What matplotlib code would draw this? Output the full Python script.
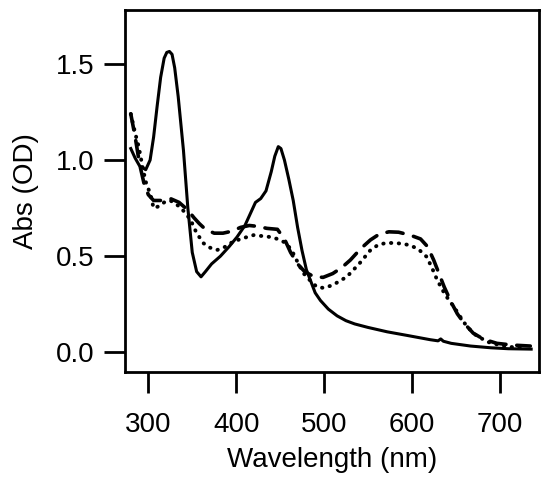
import numpy as np
import matplotlib
matplotlib.use("Agg")
import matplotlib.pyplot as plt

plt.rcParams['font.family'] = ['Liberation Sans', 'DejaVu Sans']

# solid trace
wl_solid = [280, 285, 290, 297, 302, 306, 310, 314, 318, 321, 324, 327, 330, 334,
            340, 345, 350, 355, 360, 365, 372, 382, 392, 401, 410, 417, 422, 428,
            434, 440, 444, 448, 451, 455, 460, 465, 470, 475, 480, 485, 490, 496,
            505, 515, 525, 535, 550, 572, 595, 621, 630, 633, 636, 645, 667, 690,
            710, 736]
abs_solid = [1.06, 1.01, 0.97, 0.95, 1.00, 1.12, 1.28, 1.43, 1.53, 1.56, 1.565, 1.55,
             1.48, 1.33, 1.05, 0.75, 0.52, 0.42, 0.393, 0.42, 0.46, 0.50, 0.55, 0.60,
             0.66, 0.73, 0.78, 0.80, 0.84, 0.94, 1.02, 1.07, 1.06, 1.00, 0.90, 0.79,
             0.65, 0.53, 0.43, 0.37, 0.31, 0.27, 0.225, 0.19, 0.165, 0.148, 0.13,
             0.107, 0.088, 0.066, 0.06, 0.07, 0.058, 0.047, 0.033, 0.024, 0.019, 0.017]

# dashed trace
wl_dash = [280, 285, 290, 295, 300, 306, 315, 325, 335, 345, 352, 358, 365, 375,
           385, 395, 405, 415, 425, 435, 447, 455, 462, 470, 478, 488, 499, 510,
           520, 530, 542, 553, 563, 574, 585, 598, 610, 618, 625, 631, 637, 645,
           652, 660, 670, 682, 697, 715, 735]
abs_dash = [1.24, 1.12, 0.98, 0.88, 0.82, 0.79, 0.79, 0.80, 0.78, 0.74, 0.70, 0.67,
            0.64, 0.62, 0.62, 0.63, 0.65, 0.66, 0.655, 0.645, 0.64, 0.59, 0.52, 0.46,
            0.42, 0.395, 0.39, 0.41, 0.44, 0.48, 0.54, 0.585, 0.615, 0.627, 0.625,
            0.61, 0.59, 0.55, 0.48, 0.41, 0.34, 0.26, 0.20, 0.15, 0.10, 0.068, 0.047,
            0.038, 0.033]

# dotted trace
wl_dot = [280, 285, 289, 294, 298, 302, 306, 312, 318, 325, 336, 343, 348, 355, 363,
          370, 378, 386, 393, 405, 420, 439, 447, 454, 460, 465, 471, 477, 485, 492,
          500, 510, 526, 540, 553, 562, 572, 585, 598, 608, 617, 623, 629, 638, 648,
          656, 663, 673, 686, 700, 715, 731]
abs_dot = [1.24, 1.14, 1.07, 0.95, 0.87, 0.83, 0.75, 0.76, 0.78, 0.79, 0.757, 0.72,
           0.69, 0.62, 0.567, 0.545, 0.532, 0.545, 0.567, 0.59, 0.61, 0.60, 0.59,
           0.575, 0.55, 0.515, 0.46, 0.41, 0.37, 0.34, 0.335, 0.35, 0.393, 0.46,
           0.532, 0.56, 0.57, 0.567, 0.558, 0.535, 0.497, 0.44, 0.376, 0.30, 0.237,
           0.18, 0.133, 0.09, 0.055, 0.038, 0.027, 0.021]

fig = plt.figure(figsize=(5.47, 4.88), dpi=100)
ax = fig.add_axes([0.2285, 0.2377, 0.757, 0.7408])

ax.plot(wl_solid, abs_solid, color='black', lw=2.2, solid_joinstyle='round')
ax.plot(wl_dash, abs_dash, color='black', lw=2.6, linestyle=(0, (4.5, 3)),
        dash_capstyle='round')
ax.plot(wl_dot, abs_dot, color='black', lw=2.8, linestyle=(0, (0.1, 1.9)),
        dash_capstyle='round')

ax.set_xlim(273.4, 745)
ax.set_ylim(-0.102, 1.778)
ax.set_xticks([300, 400, 500, 600, 700])
ax.set_yticks([0.0, 0.5, 1.0, 1.5])
ax.set_yticklabels(['0.0', '0.5', '1.0', '1.5'])

for s in ax.spines.values():
    s.set_linewidth(2)
ax.tick_params(direction='out', length=15, width=2, labelsize=20)
ax.tick_params(axis='x', pad=14)
ax.tick_params(axis='y', pad=7)

ax.set_xlabel('Wavelength (nm)', fontsize=20, labelpad=6)
ax.set_ylabel('Abs (OD)', fontsize=20, labelpad=12)

fig.savefig('out.png', dpi=100)
